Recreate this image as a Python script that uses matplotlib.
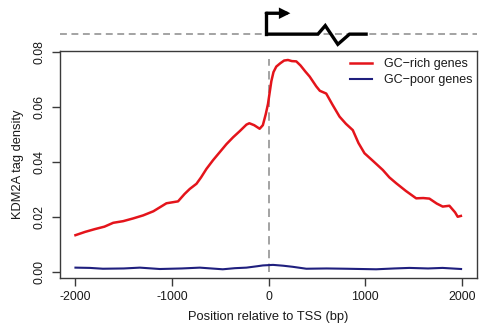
import matplotlib
matplotlib.use("Agg")
import matplotlib.pyplot as plt

plt.rcParams['font.family'] = ['Liberation Sans', 'DejaVu Sans']

# ---- data ----
rich_pos = [-2000, -1900, -1800, -1700, -1609, -1506, -1402, -1299, -1193, -1100,
            -1058, -972, -938, -870, -817, -747, -700, -644, -575, -506,
            -437, -368, -300, -230, -200, -150, -93, -60, -30, -7,
            28, 50, 79, 120, 160, 200, 240, 286, 330, 380,
            424, 493, 530, 596, 660, 734, 800, 871, 930, 992,
            1080, 1182, 1250, 1320, 1420, 1527, 1600, 1664, 1740, 1802,
            1871, 1930, 1957, 1990]
rich_val = [0.0135, 0.0147, 0.0157, 0.0166, 0.0180, 0.0186, 0.0196, 0.0207, 0.0222, 0.0242,
            0.0251, 0.0256, 0.0258, 0.0285, 0.0303, 0.0322, 0.0345, 0.0376, 0.0408, 0.0437,
            0.0466, 0.0491, 0.0513, 0.0537, 0.0542, 0.0535, 0.0522, 0.0535, 0.0575, 0.0612,
            0.0695, 0.0728, 0.0748, 0.0760, 0.0770, 0.0772, 0.0768, 0.0767, 0.0752, 0.0730,
            0.0712, 0.0676, 0.0660, 0.0650, 0.0610, 0.0566, 0.0540, 0.0517, 0.0470, 0.0433,
            0.0405, 0.0372, 0.0345, 0.0324, 0.0296, 0.0269, 0.0270, 0.0268, 0.0250, 0.0239,
            0.0242, 0.0218, 0.0202, 0.0205]

poor_pos = [-2000, -1850, -1716, -1500, -1333, -1127, -900, -713, -475, -350,
            -230, -120, -60, 45, 150, 250, 390, 600, 800, 1113,
            1300, 1457, 1650, 1800, 1992]
poor_val = [0.0017, 0.0016, 0.0013, 0.0014, 0.0017, 0.0012, 0.0014, 0.0017, 0.0011, 0.0015,
            0.0017, 0.0022, 0.0025, 0.0027, 0.0024, 0.0020, 0.0013, 0.0014, 0.0013, 0.0011,
            0.0014, 0.0016, 0.0014, 0.0016, 0.0012]

series_labels = ["GC\u2212rich genes", "GC\u2212poor genes"]
x_ticks = [-2000, -1000, 0, 1000, 2000]
y_ticks = [0.00, 0.02, 0.04, 0.06, 0.08]
x_label = "Position relative to TSS (bp)"
y_label = "KDM2A tag density"

# gene schematic (x in bp, y in density units, drawn above the plot)
gene_x = [-24, -24]
gene_y = [0.0866, 0.0942]
arrow_from = (-24, 0.0942)
arrow_to = (225, 0.0942)
body_x = [-24, 510, 586, 716, 837, 1026]
body_y = [0.0866, 0.0866, 0.0897, 0.0829, 0.0866, 0.0866]

RED = '#e4141b'
NAVY = '#1f1f7e'
GRAY = '#8a8a8a'
BOX = '#3a3a3a'

fig = plt.figure(figsize=(4.79, 3.30), dpi=100)
ax = fig.add_axes([60/479, 52.3/330, 417.3/479, 226.7/330])

ax.set_xlim(-2160, 2160)
ax.set_ylim(-0.00196, 0.08047)

# TSS vertical dashed line
ax.plot([0, 0], [0.0, 0.0775], color=GRAY, lw=1.1, dashes=(5.5, 3.5), zorder=1)

l1, = ax.plot(rich_pos, rich_val, color=RED, lw=1.8, zorder=3, label=series_labels[0])
l2, = ax.plot(poor_pos, poor_val, color=NAVY, lw=1.5, zorder=3, label=series_labels[1])

# top dashed line + gene schematic
ax.plot([-2160, 2160], [0.0866, 0.0866], color=GRAY, lw=1.1, dashes=(4.5, 3.0),
        clip_on=False, zorder=1)
ax.plot(body_x, body_y, color='black', lw=2.4, clip_on=False, zorder=4,
        solid_joinstyle='miter', solid_capstyle='butt')
ax.plot(gene_x, gene_y, color='black', lw=2.4, clip_on=False, zorder=4,
        solid_capstyle='projecting')
ax.annotate('', xy=arrow_to, xytext=arrow_from, annotation_clip=False,
            arrowprops=dict(arrowstyle='-|>', lw=2.4, color='black',
                            mutation_scale=11, shrinkA=0, shrinkB=0,
                            joinstyle='miter'))

ax.set_xticks(x_ticks)
ax.set_xticklabels([str(v) for v in x_ticks])
ax.set_yticks(y_ticks)
ax.set_yticklabels(["%.2f" % v for v in y_ticks], rotation=90, va='center')

for s in ax.spines.values():
    s.set_color(BOX)
    s.set_linewidth(1.0)
ax.tick_params(axis='both', direction='out', length=5.6, width=1.0, color=BOX,
               labelsize=8.9, labelcolor='#1a1a1a')
ax.tick_params(axis='x', pad=4.0)
ax.tick_params(axis='y', pad=4.5)

ax.set_xlabel(x_label, fontsize=9.3, color='#1a1a1a')
ax.set_ylabel(y_label, fontsize=9.3, color='#1a1a1a')
ax.xaxis.set_label_coords(0.5, -0.172)
ax.xaxis.label.set_va('center')
ax.yaxis.set_label_coords(-0.1006, 0.5)
ax.yaxis.label.set_va('center')

leg = ax.legend(handles=[l1, l2], loc='upper right', bbox_to_anchor=(0.998, 0.985),
                frameon=False, fontsize=9.0, handlelength=1.75, handletextpad=0.95,
                labelspacing=0.32, borderpad=0.3, borderaxespad=0.0)
for t in leg.get_texts():
    t.set_color('#1a1a1a')

fig.savefig('out.png', dpi=100)
